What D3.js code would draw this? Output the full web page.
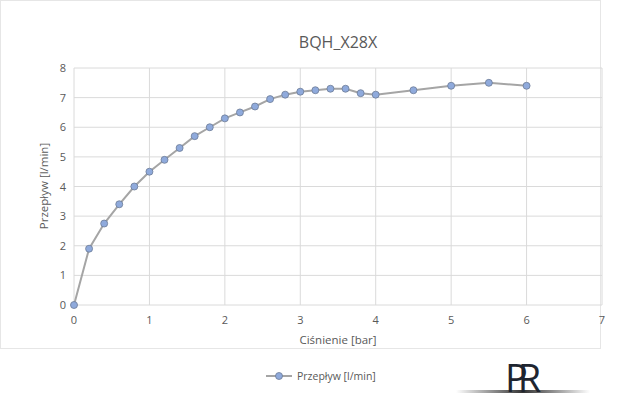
<!DOCTYPE html>
<html><head><meta charset="utf-8">
<script src="https://cdn.jsdelivr.net/npm/d3@7"></script>
<style>body{margin:0;background:#fff}text{font-family:"Open Sans",Calibri,sans-serif}</style>
</head><body><svg id="c" width="640" height="415"></svg>
<script>
var cisnienie = [0,0.2,0.4,0.6,0.8,1,1.2,1.4,1.6,1.8,2,2.2,2.4,2.6,2.8,3,3.2,3.4,3.6,3.8,4,4.5,5,5.5,6];
var przeplyw = [0,1.9,2.75,3.4,4.0,4.5,4.9,5.3,5.7,6.0,6.3,6.5,6.7,6.95,7.1,7.2,7.25,7.3,7.3,7.15,7.1,7.25,7.4,7.5,7.4];
var xTicks = [0,1,2,3,4,5,6,7];
var yTicks = [0,1,2,3,4,5,6,7,8];

var svg = d3.select("#c");
var x = d3.scaleLinear().domain([0,7]).range([74,602]);
var y = d3.scaleLinear().domain([0,8]).range([305,68]);

svg.append("rect").attr("x",0.5).attr("y",0.5).attr("width",600).attr("height",348)
  .attr("fill","none").attr("stroke","#e6e6e6");

svg.selectAll(".gy").data(yTicks).enter().append("line")
  .attr("x1",x(0)).attr("x2",x(7)).attr("y1",d=>y(d)).attr("y2",d=>y(d))
  .attr("stroke","#dadada");
svg.selectAll(".gx").data(xTicks).enter().append("line")
  .attr("y1",y(0)).attr("y2",y(8)).attr("x1",d=>x(d)).attr("x2",d=>x(d))
  .attr("stroke","#dadada");

svg.selectAll(".ty").data(yTicks).enter().append("text")
  .attr("x",x(0)-8).attr("y",d=>y(d)+4).attr("text-anchor","end")
  .attr("font-size",11).attr("fill","#595959").text(d=>d);
svg.selectAll(".tx").data(xTicks).enter().append("text")
  .attr("x",d=>x(d)).attr("y",y(0)+19).attr("text-anchor","middle")
  .attr("font-size",11).attr("fill","#595959").text(d=>d);

svg.append("text").attr("x",338).attr("y",48).attr("text-anchor","middle")
  .attr("font-size",16).attr("fill","#595959").text("BQH_X28X");
svg.append("text").attr("x",338).attr("y",344).attr("text-anchor","middle")
  .attr("font-size",11.5).attr("fill","#595959").text("Ciśnienie [bar]");
svg.append("text").attr("transform","translate(48,186) rotate(-90)").attr("text-anchor","middle")
  .attr("font-size",11.5).attr("fill","#595959").text("Przepływ [l/min]");

var pts = cisnienie.map((c,i)=>[c,przeplyw[i]]);
svg.append("path").datum(pts)
  .attr("d",d3.line().x(d=>x(d[0])).y(d=>y(d[1])))
  .attr("fill","none").attr("stroke","#a5a5a5").attr("stroke-width",2);
svg.selectAll(".p").data(pts).enter().append("circle")
  .attr("cx",d=>x(d[0])).attr("cy",d=>y(d[1])).attr("r",3.5)
  .attr("fill","#8faadc").attr("stroke","#6c7b95").attr("stroke-width",0.8);

svg.append("line").attr("x1",266).attr("x2",292).attr("y1",376).attr("y2",376)
  .attr("stroke","#a5a5a5").attr("stroke-width",2);
svg.append("circle").attr("cx",279).attr("cy",376).attr("r",3.5)
  .attr("fill","#8faadc").attr("stroke","#6c7b95").attr("stroke-width",0.8);
svg.append("text").attr("x",297).attr("y",380).attr("font-size",10.5)
  .attr("fill","#595959").text("Przepływ [l/min]");

// logo
var g = d3.scaleLinear().domain([0,1]).range([456,590]);
var grad = svg.append("defs").append("linearGradient").attr("id","lg");
grad.append("stop").attr("offset","0").attr("stop-color","#fff");
grad.append("stop").attr("offset","0.5").attr("stop-color","#333");
grad.append("stop").attr("offset","1").attr("stop-color","#fff");
svg.append("rect").attr("x",g(0)).attr("y",390).attr("width",g(1)-g(0)).attr("height",3).attr("fill","url(#lg)");
svg.append("text").attr("x",505).attr("y",392).attr("font-size",38).attr("font-family","Liberation Serif")
  .attr("fill","#1e2530").attr("letter-spacing",-10).text("PR");
</script></body></html>
